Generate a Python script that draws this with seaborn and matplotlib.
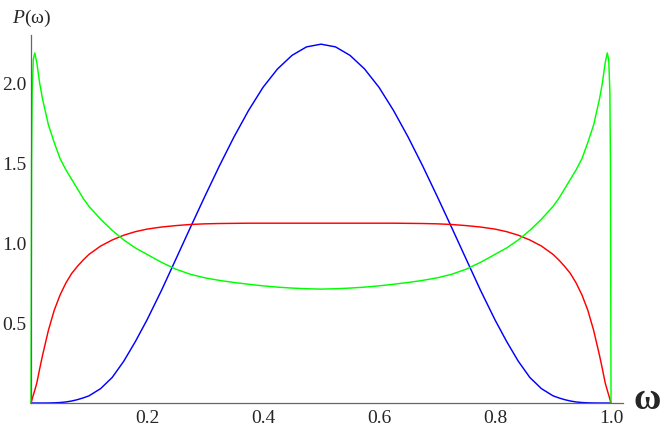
import matplotlib
matplotlib.use("Agg")
import matplotlib.pyplot as plt
import seaborn as sns
import pandas as pd
from matplotlib.ticker import MultipleLocator, FixedLocator

# values
omega = [0, 0.001, 0.002, 0.004, 0.0065, 0.01, 0.015, 0.02, 0.03, 0.04, 0.05, 0.06,
         0.07, 0.08, 0.09, 0.10, 0.12, 0.14, 0.16, 0.18, 0.20, 0.225, 0.25, 0.275,
         0.30, 0.325, 0.35, 0.375, 0.40, 0.425, 0.45, 0.475, 0.50, 0.525, 0.55, 0.575,
         0.60, 0.625, 0.65, 0.675, 0.70, 0.725, 0.75, 0.775, 0.80, 0.82, 0.84, 0.86,
         0.88, 0.90, 0.91, 0.92, 0.93, 0.94, 0.95, 0.96, 0.97, 0.98, 0.985, 0.99,
         0.9935, 0.996, 0.998, 0.999, 1.0]

p_blue = [0, 0, 0, 0, 0, 0, 0, 0, 0.0003, 0.0012, 0.003, 0.0065, 0.0125, 0.021, 0.032,
          0.045, 0.09, 0.16, 0.262, 0.385, 0.52, 0.705, 0.902, 1.10, 1.295, 1.485, 1.665,
          1.83, 1.975, 2.09, 2.175, 2.228, 2.245, 2.228, 2.175, 2.09, 1.975, 1.83, 1.665,
          1.485, 1.295, 1.10, 0.902, 0.705, 0.52, 0.385, 0.262, 0.16, 0.09, 0.045, 0.032,
          0.021, 0.0125, 0.0065, 0.003, 0.0012, 0.0003, 0, 0, 0, 0, 0, 0, 0, 0]

p_red = [0, 0.012, 0.025, 0.05, 0.08, 0.125, 0.215, 0.30, 0.455, 0.58, 0.675, 0.75,
         0.81, 0.855, 0.895, 0.93, 0.982, 1.02, 1.05, 1.072, 1.088, 1.101, 1.11, 1.117,
         1.121, 1.123, 1.124, 1.125, 1.125, 1.125, 1.125, 1.125, 1.125, 1.125, 1.125,
         1.125, 1.125, 1.125, 1.124, 1.123, 1.121, 1.117, 1.11, 1.101, 1.088, 1.072,
         1.05, 1.02, 0.982, 0.93, 0.895, 0.855, 0.81, 0.75, 0.675, 0.58, 0.455, 0.30,
         0.215, 0.125, 0.08, 0.05, 0.025, 0.012, 0]

p_green = [0, 1.5, 1.95, 2.15, 2.19, 2.13, 2.0, 1.9, 1.74, 1.63, 1.53, 1.46, 1.40,
           1.34, 1.28, 1.23, 1.15, 1.08, 1.02, 0.97, 0.93, 0.88, 0.837, 0.805, 0.783,
           0.767, 0.754, 0.743, 0.733, 0.725, 0.719, 0.715, 0.7125, 0.715, 0.719,
           0.725, 0.733, 0.743, 0.754, 0.767, 0.783, 0.805, 0.837, 0.88, 0.93, 0.97,
           1.02, 1.08, 1.15, 1.23, 1.28, 1.34, 1.40, 1.46, 1.53, 1.63, 1.74, 1.9, 2.0,
           2.13, 2.19, 2.15, 1.95, 1.5, 0]

x_ticks = [0.2, 0.4, 0.6, 0.8, 1.0]
y_ticks = [0.5, 1.0, 1.5, 2.0]

df = pd.DataFrame({"omega": omega, "blue": p_blue, "red": p_red, "green": p_green})

sns.set_style("white")
plt.rcParams["font.family"] = ["Liberation Serif", "DejaVu Serif"]
plt.rcParams["mathtext.fontset"] = "custom"
plt.rcParams["mathtext.it"] = "Liberation Serif:italic"
plt.rcParams["mathtext.rm"] = "Liberation Serif"

fig = plt.figure(figsize=(6.64, 4.32), dpi=100)
ax = fig.add_axes([0.0467, 0.0671, 0.891, 0.851])

for col, c in [("blue", "#0000ff"), ("red", "#ff0000"), ("green", "#00ff00")]:
    sns.lineplot(data=df, x="omega", y=col, color=c, lw=1.05, ax=ax,
                 estimator=None, sort=False, clip_on=False)

ax.set_xlim(0, 1.02)
ax.set_ylim(0, 2.3)
ax.set_xlabel("")
ax.set_ylabel("")

ax.xaxis.set_major_locator(FixedLocator(x_ticks))
ax.yaxis.set_major_locator(FixedLocator(y_ticks))
ax.set_xticklabels([f"{t:.1f}" for t in x_ticks])
ax.set_yticklabels([f"{t:.1f}" for t in y_ticks])
ax.xaxis.set_minor_locator(MultipleLocator(0.05))
ax.yaxis.set_minor_locator(MultipleLocator(0.1))

for s in ["top", "right"]:
    ax.spines[s].set_visible(False)
for s in ["left", "bottom"]:
    ax.spines[s].set_color("#666666")
    ax.spines[s].set_linewidth(0.9)

ax.tick_params(which="major", direction="in", length=7, width=0.8,
               color="#666666", labelsize=14)
ax.tick_params(which="minor", direction="in", length=4, width=0.7,
               color="#666666")
ax.tick_params(axis="y", which="major", pad=3)
ax.tick_params(axis="x", which="major", pad=5)

ax.text(1.038, -0.04, "ω", fontsize=27, fontweight="bold", ha="left",
        va="baseline", clip_on=False)
ax.text(-0.033, 2.34, "$P$(ω)", fontsize=14, ha="left", va="bottom", clip_on=False)

fig.savefig("out.png", dpi=100)
